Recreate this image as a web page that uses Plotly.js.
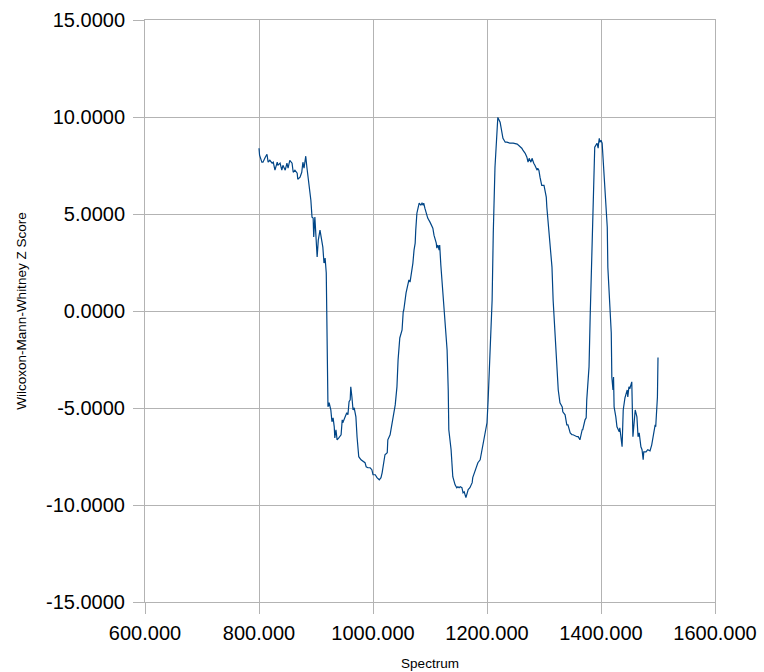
<!DOCTYPE html>
<html>
<head>
<meta charset="utf-8">
<script src="https://cdn.plot.ly/plotly-3.0.1.min.js"></script>
<style>html,body{margin:0;padding:0;background:#fff;}#chart{width:764px;height:672px;}</style>
</head>
<body>
<div id="chart"></div>
<script>
const spectrum = [800,801,805,807,811,814,816,819,823,825,828,832,833,837,840,842,846,849,851,854,858,860,863,867,868,872,875,877,879,881,882,884,888,891,893,895,896,898,902,904,907,911,912,914,916,918,919,920,921,923,926,928,930,932,933,935,937,940,944,946,947,951,954,956,958,960,961,963,965,967,970,972,975,979,982,986,988,991,995,998,1000,1004,1005,1007,1011,1014,1016,1019,1021,1025,1026,1030,1033,1035,1039,1042,1044,1047,1051,1053,1054,1058,1060,1063,1065,1068,1070,1072,1074,1075,1077,1079,1081,1084,1086,1088,1089,1091,1095,1096,1100,1104,1105,1107,1111,1112,1114,1116,1117,1119,1121,1123,1126,1130,1132,1133,1137,1139,1140,1144,1147,1149,1151,1153,1156,1158,1160,1163,1165,1167,1170,1174,1175,1179,1182,1184,1188,1191,1193,1196,1200,1202,1205,1209,1211,1214,1218,1219,1223,1226,1228,1232,1235,1240,1246,1253,1258,1261,1263,1267,1270,1272,1274,1275,1277,1279,1281,1282,1284,1288,1289,1291,1293,1295,1296,1300,1304,1305,1309,1314,1316,1319,1323,1325,1328,1332,1333,1337,1340,1342,1346,1349,1351,1354,1358,1360,1363,1367,1368,1372,1374,1375,1379,1381,1384,1386,1388,1389,1393,1395,1396,1397,1398,1400,1402,1404,1407,1411,1412,1416,1418,1419,1421,1422,1423,1426,1428,1432,1433,1437,1439,1442,1446,1447,1449,1451,1454,1456,1460,1463,1465,1467,1470,1472,1474,1475,1479,1482,1486,1489,1491,1495,1496,1498,1499,1500];
const zScore = [8.39,8.03,7.67,7.67,7.93,8.08,7.67,7.77,7.62,7.67,7.26,7.67,7.51,7.62,7.26,7.51,7.26,7.62,7.36,7.77,7.62,7.15,7.26,7.10,6.79,6.90,7.15,7.67,7.36,7.93,7.98,7.41,6.38,5.71,4.84,4.79,3.81,4.84,2.78,3.65,4.17,3.50,3.29,2.47,2.73,1.96,-2.0,-4.43,-4.94,-4.73,-5.10,-5.71,-5.51,-5.97,-6.54,-6.12,-6.64,-6.54,-6.38,-5.61,-5.76,-5.46,-5.25,-5.35,-4.68,-4.58,-3.91,-4.43,-5.10,-4.99,-5.46,-6.48,-7.51,-7.67,-7.72,-7.82,-8.03,-8.08,-8.08,-8.18,-8.44,-8.44,-8.49,-8.59,-8.70,-8.59,-8.34,-7.82,-7.41,-7.31,-6.64,-6.38,-5.87,-5.71,-4.84,-3.91,-2.52,-1.39,-0.98,-0.05,0.05,0.93,1.18,1.60,1.49,1.96,2.47,3.14,3.50,4.17,5.04,5.30,5.56,5.46,5.56,5.46,5.56,5.30,4.94,4.79,4.58,4.32,4.27,3.91,3.50,3.24,3.40,3.14,3.40,2.37,1.60,0.98,-0.10,-2.01,-4.07,-6.12,-7.15,-8.34,-8.54,-8.96,-9.11,-9.06,-9.11,-9.06,-9.11,-9.37,-9.32,-9.62,-9.37,-9.21,-9.11,-8.85,-8.59,-8.29,-8.03,-7.82,-7.67,-7.15,-6.79,-6.28,-5.76,-4.58,-2.01,0.57,4.01,7.41,9.47,9.98,9.73,9.32,8.90,8.70,8.70,8.65,8.65,8.60,8.49,8.39,8.29,8.13,7.93,7.67,7.87,7.77,7.67,7.87,7.67,7.62,7.51,7.26,7.36,7.26,6.90,6.59,6.48,6.48,5.87,5.35,4.01,2.26,0.57,-1.13,-3.40,-4.07,-4.73,-4.94,-5.20,-5.35,-5.87,-5.87,-6.28,-6.38,-6.38,-6.43,-6.48,-6.48,-6.64,-6.12,-6.12,-5.61,-5.51,-4.58,-2.88,-0.31,3.14,5.35,7.41,8.44,8.65,8.39,8.70,8.90,8.70,8.80,8.65,7.77,6.59,4.32,2.26,0.21,-1.13,-3.40,-4.07,-3.40,-4.94,-5.46,-5.97,-6.23,-6.02,-7.00,-5.10,-4.48,-4.07,-4.43,-3.91,-3.96,-3.65,-6.48,-5.10,-5.46,-6.48,-6.28,-7.00,-7.15,-7.67,-7.26,-7.26,-7.15,-7.21,-6.90,-6.48,-5.87,-5.97,-4.94,-4.43,-2.40];
const xTickVals = [600, 800, 1000, 1200, 1400, 1600];
const xTickText = ["600.000", "800.000", "1000.000", "1200.000", "1400.000", "1600.000"];
const yTickVals = [-15, -10, -5, 0, 5, 10, 15];
const yTickText = ["-15.0000", "-10.0000", "-5.0000", "0.0000", "5.0000", "10.0000", "15.0000"];
const xTitle = "Spectrum";
const yTitle = "Wilcoxon-Mann-Whitney Z Score";

const gridCol = "#b3b3b3";
const fontFam = "'Liberation Sans', Arial, sans-serif";

Plotly.newPlot("chart", [{
  x: spectrum, y: zScore, type: "scatter", mode: "lines",
  line: {color: "#004586", width: 1.2}, hoverinfo: "skip"
}], {
  width: 764, height: 672,
  margin: {l: 145, r: 49, t: 20, b: 70},
  paper_bgcolor: "#ffffff", plot_bgcolor: "#ffffff",
  showlegend: false,
  font: {family: fontFam, color: "#000000"},
  xaxis: {
    range: [600, 1600], tickmode: "array", tickvals: xTickVals, ticktext: xTickText,
    showgrid: true, gridcolor: gridCol, gridwidth: 1, zeroline: false,
    showline: true, linecolor: gridCol, linewidth: 1, mirror: true,
    ticks: "outside", ticklen: 11, tickcolor: gridCol, tickwidth: 1,
    ticklabelstandoff: 2,
    tickfont: {size: 20, family: fontFam, color: "#000"},
    title: {text: xTitle, font: {size: 13.5, family: fontFam, color: "#000"}, standoff: 15},
    automargin: false
  },
  yaxis: {
    range: [-15, 15], tickmode: "array", tickvals: yTickVals, ticktext: yTickText,
    showgrid: true, gridcolor: gridCol, gridwidth: 1, zeroline: false,
    showline: true, linecolor: gridCol, linewidth: 1, mirror: true,
    ticks: "outside", ticklen: 11, tickcolor: gridCol, tickwidth: 1,
    ticklabelstandoff: 4,
    tickfont: {size: 20, family: fontFam, color: "#000"},
    title: {text: yTitle, font: {size: 13.5, family: fontFam, color: "#000"}, standoff: 16},
    automargin: false
  }
}, {staticPlot: true, displayModeBar: false});
</script>
</body>
</html>
